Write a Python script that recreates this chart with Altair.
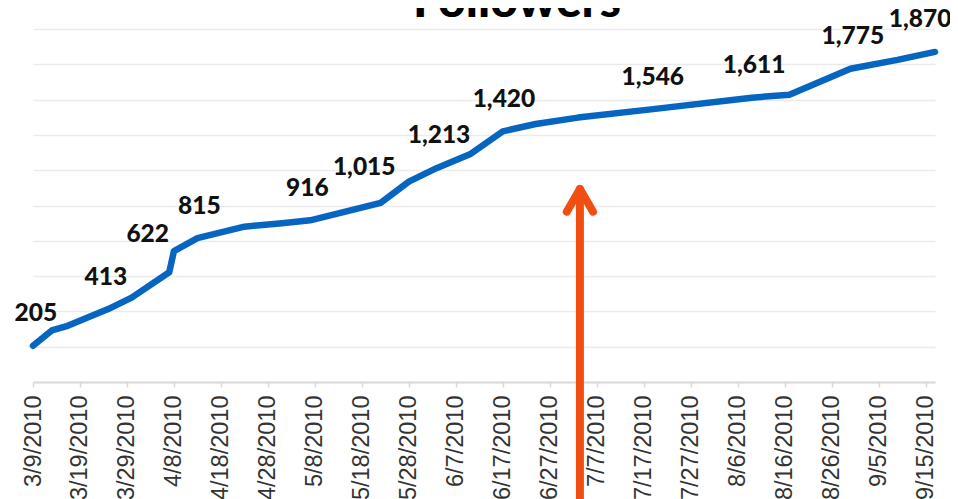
import altair as alt
import pandas as pd

# ---- data ----
dates = ["2010-03-09", "2010-03-13", "2010-03-16", "2010-03-25", "2010-03-30",
         "2010-04-07", "2010-04-08", "2010-04-13", "2010-04-23", "2010-05-01",
         "2010-05-07", "2010-05-22", "2010-05-28", "2010-06-03", "2010-06-10",
         "2010-06-17", "2010-06-24", "2010-07-03", "2010-07-19", "2010-08-09",
         "2010-08-17", "2010-08-30", "2010-09-09", "2010-09-17"]
followers = [205, 292, 315, 413, 478,
             622, 742, 815, 880, 900,
             916, 1015, 1135, 1213, 1290,
             1420, 1462, 1498, 1546, 1611,
             1628, 1775, 1825, 1870]

label_dates = ["2010-03-09T15:00:00Z", "2010-03-24T12:00:00Z", "2010-04-02T10:00:00Z",
               "2010-04-13T10:00:00Z", "2010-05-06T10:00:00Z", "2010-05-18T12:00:00Z",
               "2010-06-03T10:00:00Z", "2010-06-17T06:00:00Z", "2010-07-18T22:00:00Z",
               "2010-08-09T12:00:00Z", "2010-08-30T12:00:00Z", "2010-09-13T20:00:00Z"]
label_values = [205, 413, 622, 815, 916, 1015, 1213, 1420, 1546, 1611, 1775, 1870]
label_levels = [205, 413, 657, 815, 916, 1035, 1213, 1420, 1546, 1611, 1775, 1870]

tick_dates = ["2010-03-09", "2010-03-19", "2010-03-29", "2010-04-08", "2010-04-18",
              "2010-04-28", "2010-05-08", "2010-05-18", "2010-05-28", "2010-06-07",
              "2010-06-17", "2010-06-27", "2010-07-07", "2010-07-17", "2010-07-27",
              "2010-08-06", "2010-08-16", "2010-08-26", "2010-09-05", "2010-09-15"]
grid_values = [0, 200, 400, 600, 800, 1000, 1200, 1400, 1600, 1800, 2000]
x_domain = ["2010-03-09", "2010-09-17"]
y_domain = [0, 2000]

title_text = ["Followers"]

arrow_part = ["shaft", "shaft", "head", "head", "head"]
arrow_dates = ["2010-07-03T10:00:00Z", "2010-07-03T10:00:00Z",
               "2010-06-30T15:00:00Z", "2010-07-03T10:00:00Z", "2010-07-06T05:00:00Z"]
arrow_values = [1094, -760, 965, 1094, 965]


def ms(d):
    t = pd.Timestamp(d)
    if t.tzinfo is None:
        t = t.tz_localize("UTC")
    return int(t.value // 10**6)


line_df = pd.DataFrame({"date": [ms(d) for d in dates], "followers": followers})
label_df = pd.DataFrame({"date": [ms(d) for d in label_dates], "value": label_values,
                         "level": label_levels})
arrow_df = pd.DataFrame({"part": arrow_part, "date": [ms(d) for d in arrow_dates],
                         "value": arrow_values})
title_df = pd.DataFrame({"t": title_text})

x_scale = alt.Scale(type="utc", domain=[ms(d) for d in x_domain], nice=False)
y_scale = alt.Scale(domain=y_domain, nice=False, zero=False)

x_axis = alt.Axis(values=[ms(d) for d in tick_dates],
                  labelExpr="utcFormat(datum.value, '%-m/%-d/%Y')",
                  labelAngle=-90, labelFont="Liberation Sans", labelFontSize=23.5,
                  labelFontWeight="normal",
                  labelColor="#333333", labelPadding=8, labelFlush=False, labelOverlap=False,
                  tickSize=5, tickColor="#d9d9d9", tickWidth=1.5,
                  domainColor="#d9d9d9", domainWidth=2, grid=False, title=None)
y_axis = alt.Axis(values=grid_values, grid=True, gridColor="#ebebeb", gridWidth=1.3,
                  labels=False, ticks=False, domain=False, title=None)

x_enc = alt.X("date:T", scale=x_scale, axis=x_axis)

line = alt.Chart(line_df).mark_line(color="#0565C1", strokeWidth=6.5,
                                    strokeCap="round", strokeJoin="round").encode(
    x=x_enc,
    y=alt.Y("followers:Q", scale=y_scale, axis=y_axis),
)

labels = alt.Chart(label_df).mark_text(font="Lato", fontWeight=900, fontSize=24.5,
                                       color="#111111", dy=-24.5, baseline="alphabetic",
                                       align="center").encode(
    x=x_enc,
    y=alt.Y("level:Q", scale=y_scale, axis=y_axis),
    text=alt.Text("value:Q", format=","),
)

arrow = alt.Chart(arrow_df).mark_line(color="#F24E12", strokeWidth=8,
                                      strokeCap="round", strokeJoin="round").encode(
    x=x_enc,
    y=alt.Y("value:Q", scale=y_scale, axis=y_axis),
    detail="part:N",
)

title = alt.Chart(title_df).mark_text(font="Lato", fontWeight=900, fontSize=48,
                                      color="#000000", baseline="alphabetic",
                                      align="center").encode(
    x=alt.value(484), y=alt.value(-12), text="t:N",
)

chart = alt.layer(line, labels, arrow, title).properties(
    width=902, height=353,
    autosize=alt.AutoSizeParams(type="none"),
    padding={"left": 25, "top": 21, "right": 15, "bottom": 125},
).configure_view(stroke=None)

chart.save("out.html", embed_options={"renderer": "svg", "actions": False})
